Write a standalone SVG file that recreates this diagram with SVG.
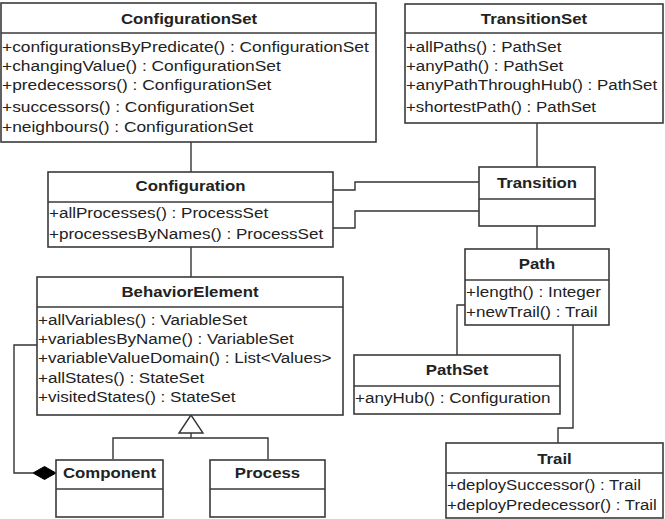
<svg xmlns="http://www.w3.org/2000/svg" width="665" height="519" viewBox="0 0 665 519">
<style>
.box{fill:#fff;stroke:#3a3a3a;stroke-width:1.6}
.div{stroke:#3a3a3a;stroke-width:1.6;fill:none}
.t{font-family:"Liberation Sans",Arial,sans-serif;font-size:15px;font-weight:bold;fill:#222;text-anchor:middle}
.m{font-family:"Liberation Sans",Arial,sans-serif;font-size:15.5px;fill:#222}
.c{fill:none;stroke:#333;stroke-width:1.4}
</style>
<rect width="665" height="519" fill="#fff"/>
<g id="connectors">
<path class="c" d="M191 142V172"/>
<path class="c" d="M191 247V277"/>
<path class="c" d="M537 123V167"/>
<path class="c" d="M537 226V249"/>
<path class="c" d="M333 190H355V182H479"/>
<path class="c" d="M333 228H355V211H479"/>
<path class="c" d="M465 305H457V355"/>
<path class="c" d="M573 325V428H558V443"/>
<path class="c" d="M191 433V438M113 459V438H268V459"/>
<path d="M191 415L179 433H203Z" fill="#fff" stroke="#333" stroke-width="1.4"/>
<path class="c" d="M37 345H14V473H33"/>
<path d="M33 473L44.5 466.5L56 473L44.5 479.5Z" fill="#000" stroke="#000" stroke-width="1"/>
</g>
<g id="ConfigurationSet">
<rect class="box" x="1" y="3" width="375" height="139"/>
<path class="div" d="M1 33H376"/>
<text class="t" transform="translate(189 24) scale(1.12 1)">ConfigurationSet</text>
<text class="m" transform="translate(2 52) scale(1.12 1)">+configurationsByPredicate() : ConfigurationSet</text>
<text class="m" transform="translate(2 71) scale(1.12 1)">+changingValue() : ConfigurationSet</text>
<text class="m" transform="translate(2 90) scale(1.12 1)">+predecessors() : ConfigurationSet</text>
<text class="m" transform="translate(2 111.5) scale(1.12 1)">+successors() : ConfigurationSet</text>
<text class="m" transform="translate(2 131.5) scale(1.12 1)">+neighbours() : ConfigurationSet</text>
</g>
<g id="TransitionSet">
<rect class="box" x="405" y="4" width="258" height="119"/>
<path class="div" d="M405 33H663"/>
<text class="t" transform="translate(534 24) scale(1.12 1)">TransitionSet</text>
<text class="m" transform="translate(406 52) scale(1.09 1)">+allPaths() : PathSet</text>
<text class="m" transform="translate(406 71) scale(1.09 1)">+anyPath() : PathSet</text>
<text class="m" transform="translate(406 90) scale(1.09 1)">+anyPathThroughHub() : PathSet</text>
<text class="m" transform="translate(406 111.5) scale(1.09 1)">+shortestPath() : PathSet</text>
</g>
<g id="Configuration">
<rect class="box" x="48" y="172" width="285" height="75"/>
<path class="div" d="M48 202H333"/>
<text class="t" transform="translate(190.5 191) scale(1.12 1)">Configuration</text>
<text class="m" transform="translate(49 218) scale(1.1 1)">+allProcesses() : ProcessSet</text>
<text class="m" transform="translate(49 239) scale(1.1 1)">+processesByNames() : ProcessSet</text>
</g>
<g id="Transition">
<rect class="box" x="479" y="167" width="116" height="59"/>
<path class="div" d="M479 199H595"/>
<text class="t" transform="translate(537 187.5) scale(1.12 1)">Transition</text>
</g>
<g id="Path">
<rect class="box" x="465" y="249" width="144" height="76"/>
<path class="div" d="M465 280H609"/>
<text class="t" transform="translate(537 269) scale(1.12 1)">Path</text>
<text class="m" transform="translate(466 297) scale(1.1 1)">+length() : Integer</text>
<text class="m" transform="translate(466 317) scale(1.1 1)">+newTrail() : Trail</text>
</g>
<g id="PathSet">
<rect class="box" x="354" y="355" width="206" height="59"/>
<path class="div" d="M354 386H560"/>
<text class="t" transform="translate(457 375) scale(1.12 1)">PathSet</text>
<text class="m" transform="translate(355 403) scale(1.1 1)">+anyHub() : Configuration</text>
</g>
<g id="Trail">
<rect class="box" x="446" y="443" width="217" height="75"/>
<path class="div" d="M446 473H663"/>
<text class="t" transform="translate(554.5 463.5) scale(1.12 1)">Trail</text>
<text class="m" transform="translate(447 489.5) scale(1.08 1)">+deploySuccessor() : Trail</text>
<text class="m" transform="translate(447 510) scale(1.08 1)">+deployPredecessor() : Trail</text>
</g>
<g id="BehaviorElement">
<rect class="box" x="37" y="277" width="306" height="138"/>
<path class="div" d="M37 307H343"/>
<text class="t" transform="translate(190 297) scale(1.12 1)">BehaviorElement</text>
<text class="m" transform="translate(38 325) scale(1.1 1)">+allVariables() : VariableSet</text>
<text class="m" transform="translate(38 344) scale(1.1 1)">+variablesByName() : VariableSet</text>
<text class="m" transform="translate(38 363) scale(1.1 1)">+variableValueDomain() : List&lt;Values&gt;</text>
<text class="m" transform="translate(38 383) scale(1.1 1)">+allStates() : StateSet</text>
<text class="m" transform="translate(38 402) scale(1.1 1)">+visitedStates() : StateSet</text>
</g>
<g id="Component">
<rect class="box" x="56" y="460" width="107" height="57"/>
<path class="div" d="M56 489H163"/>
<text class="t" transform="translate(109.5 478) scale(1.12 1)">Component</text>
</g>
<g id="Process">
<rect class="box" x="210" y="460" width="115" height="57"/>
<path class="div" d="M210 489H325"/>
<text class="t" transform="translate(267.5 478) scale(1.12 1)">Process</text>
</g>
</svg>
